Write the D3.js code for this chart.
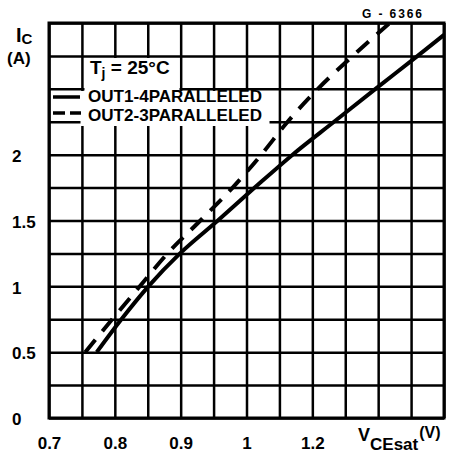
<!DOCTYPE html>
<html>
  <head>
    <title>VCEsat vs IC</title>
    <script src="https://d3js.org/d3.v7.min.js"></script>
    <style>
      body { margin: 0; background: #fff; }
      text { font-family: "Liberation Sans", Arial, sans-serif; font-weight: bold; fill: #000; }
      .grid line { stroke: #000; stroke-width: 2.5; }
      .grid path { display: none; }
    </style>
  </head>
  <body>
    <svg width="454" height="460"></svg>
    <script>
      // Tick labels
      const xTicks = [0.7, 0.8, 0.9, 1.0, 1.2];
      const xTickLabels = ["0.7", "0.8", "0.9", "1", "1.2"];
      const yTicks = [0, 0.5, 1, 1.5, 2];
      const yTickLabels = ["0", "0.5", "1", "1.5", "2"];

      // OUT1-4 paralleled (solid)
      const out14V = [0.7725, 0.81, 0.851, 0.899, 0.9565, 1.025, 1.14, 1.266, 1.392, 1.52, 1.6];
      const out14I = [0.5, 0.75, 1.0, 1.25, 1.5, 1.75, 2.0, 2.25, 2.5, 2.75, 2.91];

      // OUT2-3 paralleled (dashed)
      const out23V = [0.755, 0.796, 0.838, 0.88, 0.93, 0.979, 1.045, 1.125, 1.217, 1.323, 1.435];
      const out23I = [0.5, 0.75, 1.0, 1.25, 1.5, 1.75, 2.0, 2.25, 2.5, 2.75, 3.0];

      const plot = { left: 49, right: 444, top: 23, bottom: 418 };

      // x axis is 0.05 V per division up to 1 V, then 0.1 V per division
      const x = d3.scaleLinear().domain([0.7, 1.0, 1.6]).range([plot.left, 246.5, plot.right]);
      const y = d3.scaleLinear().domain([0, 3]).range([plot.bottom, plot.top]);

      const xGrid = d3.range(0.7, 0.99, 0.05).concat(d3.range(1.0, 1.61, 0.1));
      const yGrid = d3.range(0, 3.01, 0.25);

      const svg = d3.select("svg");
      svg.append("rect").attr("width", 454).attr("height", 460).attr("fill", "#fff");

      // grid
      svg.append("g")
        .attr("class", "grid")
        .attr("transform", `translate(0,${plot.bottom})`)
        .call(d3.axisBottom(x).tickValues(xGrid).tickSize(-(plot.bottom - plot.top)).tickFormat(""));
      svg.append("g")
        .attr("class", "grid")
        .attr("transform", `translate(${plot.left},0)`)
        .call(d3.axisLeft(y).tickValues(yGrid).tickSize(-(plot.right - plot.left)).tickFormat(""));

      // white boxes behind the annotations
      svg.append("rect").attr("x", 84.5).attr("y", 58).attr("width", 95).attr("height", 33).attr("fill", "#fff");
      svg.append("rect").attr("x", 80.5).attr("y", 91).attr("width", 189).attr("height", 35).attr("fill", "#fff");

      // frame
      svg.append("rect")
        .attr("x", plot.left).attr("y", plot.top)
        .attr("width", plot.right - plot.left).attr("height", plot.bottom - plot.top)
        .attr("fill", "none").attr("stroke", "#000").attr("stroke-width", 3);

      // curves
      const line = d3.line()
        .x(d => x(d[0]))
        .y(d => y(d[1]))
        .curve(d3.curveMonotoneX);

      svg.append("path")
        .datum(d3.zip(out14V, out14I))
        .attr("d", line)
        .attr("fill", "none")
        .attr("stroke", "#000")
        .attr("stroke-width", 4);

      svg.append("path")
        .datum(d3.zip(out23V, out23I))
        .attr("d", line)
        .attr("fill", "none")
        .attr("stroke", "#000")
        .attr("stroke-width", 4)
        .attr("stroke-dasharray", "16,11");

      // axis labels
      const xAxis = svg.append("g")
        .attr("transform", `translate(0,${plot.bottom})`)
        .call(d3.axisBottom(x).tickValues(xTicks).tickSize(0).tickFormat((d, i) => xTickLabels[i]));
      xAxis.select(".domain").remove();
      xAxis.selectAll("text")
        .attr("y", 31)
        .attr("dy", 0)
        .style("font-size", "17px")
        .style("font-family", "'Liberation Sans', Arial, sans-serif")
        .style("font-weight", "bold");

      const yAxis = svg.append("g")
        .call(d3.axisLeft(y).tickValues(yTicks).tickSize(0).tickFormat((d, i) => yTickLabels[i]));
      yAxis.select(".domain").remove();
      yAxis.selectAll("text")
        .attr("x", 12)
        .attr("dy", "0.4em")
        .attr("text-anchor", "start")
        .style("font-size", "17px")
        .style("font-family", "'Liberation Sans', Arial, sans-serif")
        .style("font-weight", "bold");

      // axis titles
      const ic = svg.append("text").attr("x", 16).attr("y", 42);
      ic.append("tspan").attr("font-size", 20).text("I");
      ic.append("tspan").attr("font-size", 15).attr("dy", 2).text("C");
      svg.append("text").attr("x", 7).attr("y", 64).attr("font-size", 17).text("(A)");

      const vce = svg.append("text").attr("x", 358).attr("y", 441);
      vce.append("tspan").attr("font-size", 18).text("V");
      vce.append("tspan").attr("font-size", 17).attr("dy", 9).text("CEsat");
      vce.append("tspan").attr("font-size", 16).attr("dx", 1).attr("dy", -12).text("(V)");

      // annotations
      const tj = svg.append("text").attr("x", 90).attr("y", 74);
      tj.append("tspan").attr("font-size", 19).text("T");
      tj.append("tspan").attr("font-size", 14).attr("dy", 4).text("j");
      tj.append("tspan").attr("font-size", 19).attr("dy", -4).text(" = 25°C");

      svg.append("line").attr("x1", 53).attr("x2", 80).attr("y1", 97).attr("y2", 97)
        .attr("stroke", "#000").attr("stroke-width", 3.5);
      svg.append("line").attr("x1", 53).attr("x2", 81).attr("y1", 113).attr("y2", 113)
        .attr("stroke", "#000").attr("stroke-width", 3.5).attr("stroke-dasharray", "12,5");

      svg.append("text").attr("x", 88).attr("y", 102).attr("font-size", 16.5)
        .attr("textLength", 174).attr("lengthAdjust", "spacingAndGlyphs").text("OUT1-4PARALLELED");
      svg.append("text").attr("x", 88).attr("y", 121).attr("font-size", 16.5)
        .attr("textLength", 174).attr("lengthAdjust", "spacingAndGlyphs").text("OUT2-3PARALLELED");

      svg.append("text").attr("x", 362).attr("y", 18).attr("font-size", 12)
        .attr("textLength", 60).text("G - 6366");
    </script>
  </body>
</html>
